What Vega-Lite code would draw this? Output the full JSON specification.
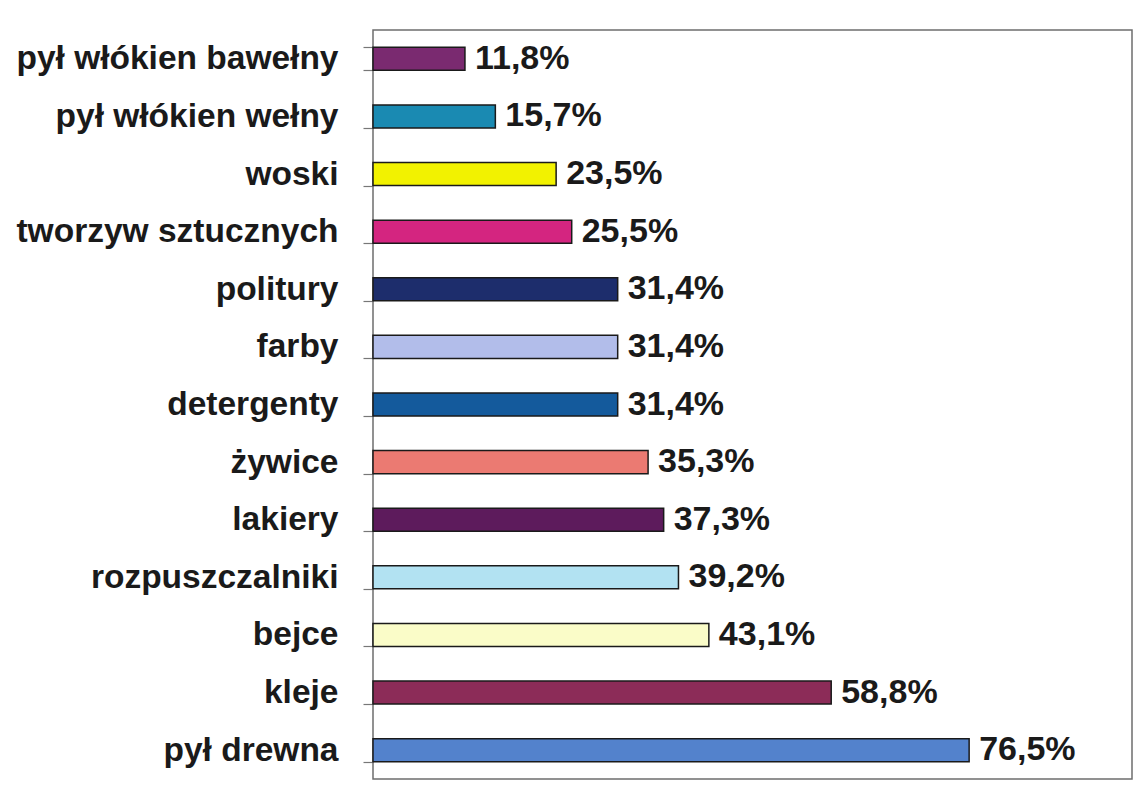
{
  "$schema": "https://vega.github.io/schema/vega-lite/v6.json",
  "autosize": "none",
  "width": 759,
  "height": 749,
  "padding": {"left": 373, "top": 30, "right": 6, "bottom": 13},
  "background": "#ffffff",
  "config": {
    "view": {"stroke": "#6e6e6e", "strokeWidth": 1.5},
    "font": "Liberation Sans"
  },
  "data": {
    "values": [
      {"kategoria": "pył włókien bawełny", "wartosc": 11.8, "etykieta": "11,8%"},
      {"kategoria": "pył włókien wełny", "wartosc": 15.7, "etykieta": "15,7%"},
      {"kategoria": "woski", "wartosc": 23.5, "etykieta": "23,5%"},
      {"kategoria": "tworzyw sztucznych", "wartosc": 25.5, "etykieta": "25,5%"},
      {"kategoria": "politury", "wartosc": 31.4, "etykieta": "31,4%"},
      {"kategoria": "farby", "wartosc": 31.4, "etykieta": "31,4%"},
      {"kategoria": "detergenty", "wartosc": 31.4, "etykieta": "31,4%"},
      {"kategoria": "żywice", "wartosc": 35.3, "etykieta": "35,3%"},
      {"kategoria": "lakiery", "wartosc": 37.3, "etykieta": "37,3%"},
      {"kategoria": "rozpuszczalniki", "wartosc": 39.2, "etykieta": "39,2%"},
      {"kategoria": "bejce", "wartosc": 43.1, "etykieta": "43,1%"},
      {"kategoria": "kleje", "wartosc": 58.8, "etykieta": "58,8%"},
      {"kategoria": "pył drewna", "wartosc": 76.5, "etykieta": "76,5%"}
    ]
  },
  "encoding": {
    "y": {
      "field": "kategoria",
      "type": "nominal",
      "sort": null,
      "title": null,
      "scale": {"paddingInner": 0.6, "paddingOuter": 0.3},
      "axis": {
        "domain": false,
        "tickBand": "extent",
        "tickSize": 10,
        "tickColor": "#777777",
        "tickWidth": 1.2,
        "labelFont": "Liberation Sans",
        "labelFontSize": 33.5,
        "labelFontWeight": "bold",
        "labelColor": "#1a1a1a",
        "labelPadding": 25,
        "labelLimit": 400
      }
    },
    "x": {
      "field": "wartosc",
      "type": "quantitative",
      "scale": {"domain": [0, 97.4], "nice": false, "zero": true},
      "axis": null
    }
  },
  "layer": [
    {
      "mark": {"type": "bar", "stroke": "#1a1a1a", "strokeWidth": 1.5},
      "encoding": {
        "color": {
          "field": "kategoria",
          "type": "nominal",
          "legend": null,
          "scale": {
            "domain": ["pył włókien bawełny", "pył włókien wełny", "woski", "tworzyw sztucznych", "politury", "farby", "detergenty", "żywice", "lakiery", "rozpuszczalniki", "bejce", "kleje", "pył drewna"],
            "range": ["#7a2a70", "#1a8ab2", "#f2f200", "#d42580", "#1d2d6c", "#b2bdea", "#145a9c", "#eb7a72", "#5d1b5c", "#b2e2f2", "#fafcc8", "#8c2c58", "#5382cc"]
          }
        }
      }
    },
    {
      "mark": {"type": "text", "align": "left", "baseline": "middle", "dx": 10, "font": "Liberation Sans", "fontSize": 34, "fontWeight": "bold", "color": "#1a1a1a"},
      "encoding": {"text": {"field": "etykieta"}}
    }
  ]
}
